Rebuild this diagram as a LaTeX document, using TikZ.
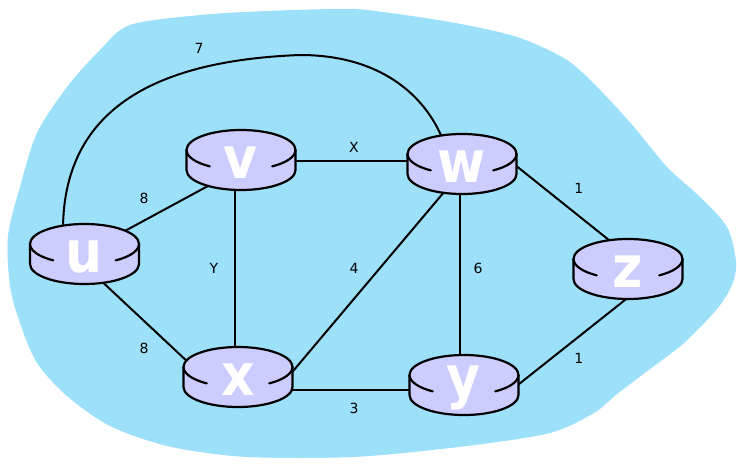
\documentclass[tikz,border=0pt]{standalone}
\usepackage{fontspec}
\setmainfont{DejaVu Sans}
\newfontfamily\routerfont{DejaVu Sans Condensed Bold}
\usetikzlibrary{calc}

\definecolor{cloudblue}{RGB}{156,224,250}
\definecolor{routerfill}{RGB}{204,204,255}

\tikzset{
  link/.style={line width=2pt, shorten <=-6pt, shorten >=-6pt},
  cost/.style={font=\fontsize{14}{15}\selectfont, inner sep=0pt},
  rlabel/.style={font=\routerfont\fontsize{58}{58}\selectfont, text=white, inner sep=0pt},
  rbody/.style={fill=routerfill, draw=black, line width=2.2pt},
  rrim/.style={draw=black, line width=2.2pt, line cap=round},
}

% router: top ellipse centred at the coordinate #1, letter #2
\newcommand{\drawrouter}[2]{%
  \path[rbody] ($(#1)+(-54.5,0)$) arc[start angle=180, end angle=360, x radius=54.5, y radius=20]
    -- ++(0,20) arc[start angle=0, end angle=180, x radius=54.5, y radius=20] -- cycle;
  \draw[rrim] ($(#1)+(-54.5,0)$) arc[start angle=180, end angle=125, x radius=54.5, y radius=20];
  \draw[rrim] ($(#1)+(54.5,0)$) arc[start angle=0, end angle=55, x radius=54.5, y radius=20];
  \node[rlabel] (#1-name) at ($(#1)+(0,13)$) {#2};
}

\begin{document}
\begin{tikzpicture}[x=1pt, y=-1pt]
\useasboundingbox (0,0) rectangle (737,476);

% network cloud
\fill[cloudblue] plot[smooth cycle, tension=0.5] coordinates {
  (130,25) (200,15) (267,11) (333,9) (367,10) (450,22) (517,37) (567,60)
  (600,90) (634,127) (667,167) (700,197) (727,227) (736,262) (732,285)
  (717,309) (684,343) (650,369) (617,394) (594,413) (550,433) (467,446)
  (370,456) (300,458) (233,456) (167,446) (110,426) (67,396) (37,363)
  (20,323) (10,286) (8,236) (20,187) (37,133) (67,87) (100,50)};

% router positions (centre of the top face)
\coordinate (u) at (84.5,244);
\coordinate (v) at (241,150);
\coordinate (w) at (462,154);
\coordinate (z) at (628,259);
\coordinate (x) at (238,367);
\coordinate (y) at (464,375);

% links
\draw[link] ($(u)+(42.2,-14)$) -- ($(v)+(-34.3,36.7)$);
\draw[link] ($(u)+(22.2,42)$) -- ($(x)+(-53,-7.7)$);
\draw[line width=2pt] ($(u)+(-21.5,-14)$) .. controls (63,100) and (170,60) .. (300,55)
  .. controls (380,55) and (425,95) .. ($(w)+(-19,-14)$);
\draw[link] ($(v)+(54,11)$) -- ($(w)+(-55,7)$);
\draw[link] ($(v)+(-6,40)$) -- ($(x)+(-3,-21)$);
\draw[link] ($(w)+(-19,39.3)$) -- ($(x)+(53.7,5.7)$);
\draw[link] ($(w)+(-2.3,40)$) -- ($(y)+(-4.3,-20.7)$);
\draw[link] ($(w)+(54,11.7)$) -- ($(z)+(-21,-20.5)$);
\draw[link] ($(x)+(54.7,23)$) -- ($(y)+(-54.3,15)$);
\draw[link] ($(y)+(54.7,9.3)$) -- ($(z)+(-4.3,42)$);

% routers
\drawrouter{u}{u}
\drawrouter{v}{v}
\drawrouter{w}{w}
\drawrouter{z}{z}
\drawrouter{x}{x}
\drawrouter{y}{y}

% link costs
\node[cost] (c-uw) at (199,48.5) {7};
\node[cost] (c-uv) at (144,198) {8};
\node[cost] (c-ux) at (144,348) {8};
\node[cost] (c-vw) at (354,147.7) {X};
\node[cost] (c-vx) at (214,268) {Y};
\node[cost] (c-wx) at (354,268) {4};
\node[cost] (c-wy) at (478,268) {6};
\node[cost] (c-wz) at (578.7,188.3) {1};
\node[cost] (c-xy) at (354,408) {3};
\node[cost] (c-yz) at (578.7,358) {1};
\end{tikzpicture}
\end{document}
